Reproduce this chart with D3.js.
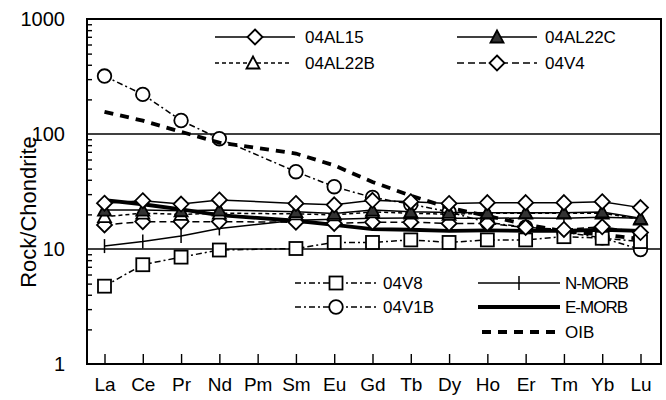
<!DOCTYPE html>
<html>
<head>
<meta charset="utf-8">
<script src="https://cdn.jsdelivr.net/npm/d3@7"></script>
<style>
  body { margin: 0; background: #fff; }
  text { font-family: "Liberation Sans", Arial, sans-serif; fill: #000; }
</style>
</head>
<body>
<script>
// chondrite-normalised REE data
var elements = ["La", "Ce", "Pr", "Nd", "Pm", "Sm", "Eu", "Gd", "Tb", "Dy", "Ho", "Er", "Tm", "Yb", "Lu"];
var yTicks = [1, 10, 100, 1000];

var v04V1B  = [319, 221, 131, 91, null, 47, 34.8, 28.1, 24.5, 21, 17, 15.5, 14, 12.5, 9.9];
var v04V8   = [4.75, 7.3, 8.5, 9.8, null, 10.1, 11.4, 11.4, 12.0, 11.4, 12.0, 12.0, 12.8, 12.4, 11.6];
var vNMORB  = [10.6, 11.6, 13.0, 15.1, null, 17.8, 18.1, 18.5, 18.6, 18.5, 18.5, 18.6, 18.5, 18.9, 18.5];
var vEMORB  = [26.6, 24.5, 22.1, 19.7, null, 17.6, 16.2, 14.9, 14.7, 14.4, 14.5, 14.4, 14.4, 14.7, 14.4];
var vOIB    = [156, 130.5, 104.5, 84.2, null, 67.6, 53.3, 38.3, 29.1, 22.8, 19.4, 16.4, 14.2, 13.4, 12.2];
var v04V4   = [16.2, 17.3, 17.3, 17.3, null, 17.1, 16.7, 17.1, 17.1, 16.7, 16.7, 15.4, 14.8, 15.6, 13.9];
var v04AL22B = [19.1, 20.5, 20.0, 20.5, null, 20.2, 19.8, 21.0, 20.5, 20.0, 20.5, 20.5, 20.5, 20.5, 18.2];
var v04AL22C = [21.8, 21.8, 21.5, 21.8, null, 21.1, 20.4, 21.8, 21.1, 20.8, 20.7, 20.7, 20.7, 21.0, 18.5];
var v04AL15 = [25.0, 26.3, 24.6, 26.7, null, 24.9, 24.2, 26.5, 25.8, 24.9, 25.3, 25.3, 25.3, 25.8, 22.9];

// series in drawing order (first one ends up underneath)
var series = [
    {name: "04V1B",  values: v04V1B,  dash: "6,3,2,3", width: 1.5, marker: "circle"},
    {name: "OIB",    values: vOIB,    dash: "9,7",     width: 3.8, marker: "none"},
    {name: "E-MORB", values: vEMORB,  dash: null,      width: 3.8, marker: "none"},
    {name: "N-MORB", values: vNMORB,  dash: null,      width: 1.5, marker: "tick"},
    {name: "04V8",   values: v04V8,   dash: "6,3,2,3", width: 1.5, marker: "square"},
    {name: "04V4",   values: v04V4,   dash: "7,4",     width: 1.5, marker: "diamond"},
    {name: "04AL22B", values: v04AL22B, dash: "4,3",   width: 1.5, marker: "triangle"},
    {name: "04AL22C", values: v04AL22C, dash: null,    width: 1.5, marker: "triangleFilled"},
    {name: "04AL15", values: v04AL15, dash: null,      width: 1.5, marker: "diamond"}
];

var width = 666, height = 400;
var box = {left: 87, top: 19, right: 661, bottom: 364};

var svg = d3.select("body").append("svg")
    .attr("width", width)
    .attr("height", height);

var x = d3.scalePoint()
    .domain(elements)
    .range([104.5, 640.5]);

var y = d3.scaleLog()
    .domain([1, 1000])
    .range([box.bottom, box.top]);

// draws one marker shape centred at 0,0
function drawMarker(g, type) {
    if (type == "circle") {
        g.append("circle").attr("r", 6.8)
            .attr("fill", "#fff").attr("stroke", "#000").attr("stroke-width", 1.8);
    } else if (type == "square") {
        g.append("rect").attr("x", -6.5).attr("y", -6.5).attr("width", 13).attr("height", 13)
            .attr("fill", "#fff").attr("stroke", "#000").attr("stroke-width", 1.8);
    } else if (type == "diamond") {
        g.append("path").attr("d", "M0,-7.5L7.5,0L0,7.5L-7.5,0Z")
            .attr("fill", "#fff").attr("stroke", "#000").attr("stroke-width", 1.8);
    } else if (type == "triangle") {
        g.append("path").attr("d", "M0,-6.5L6.5,5.5L-6.5,5.5Z")
            .attr("fill", "#fff").attr("stroke", "#000").attr("stroke-width", 1.8);
    } else if (type == "triangleFilled") {
        g.append("path").attr("d", "M0,-6.5L6.5,5.5L-6.5,5.5Z")
            .attr("fill", "#333").attr("stroke", "#000").attr("stroke-width", 1.8);
    } else if (type == "tick") {
        g.append("path").attr("d", "M0,-7V7")
            .attr("stroke", "#000").attr("stroke-width", 1.5);
    }
}

// gridlines at 10 and 100
svg.selectAll(".grid")
    .data([10, 100])
    .enter().append("line")
    .attr("x1", box.left).attr("x2", box.right)
    .attr("y1", function(d) { return y(d); })
    .attr("y2", function(d) { return y(d); })
    .attr("stroke", "#000").attr("stroke-width", 1.6);

// y axis: minor log ticks inward, labels on the decades
var minor = [];
for (var dec = 1; dec < 1000; dec *= 10) {
    for (var k = 2; k <= 9; ++k) minor.push(dec * k);
}
var yAxis = svg.append("g")
    .attr("transform", "translate(" + box.left + ",0)")
    .call(d3.axisLeft(y).tickValues(minor).tickSize(-5).tickFormat(""));
yAxis.select(".domain").remove();
yAxis.selectAll("line").attr("stroke-width", 1.4);

svg.selectAll(".ylab")
    .data(yTicks)
    .enter().append("text")
    .attr("x", 65)
    .attr("y", function(d) { return y(d); })
    .attr("dy", "0.35em")
    .attr("text-anchor", "end")
    .style("font-size", "20px")
    .text(function(d) { return d; });

// x axis with ticks pointing up
var xAxis = svg.append("g")
    .attr("transform", "translate(0," + box.bottom + ")")
    .call(d3.axisBottom(x).tickSize(-10).tickPadding(14));
xAxis.select(".domain").remove();
xAxis.selectAll("line").attr("stroke-width", 1.4);
xAxis.selectAll("text")
    .style("font-size", "19px")
    .style("font-family", "Liberation Sans, Arial, sans-serif");

// frame
svg.append("rect")
    .attr("x", box.left).attr("y", box.top)
    .attr("width", box.right - box.left).attr("height", box.bottom - box.top)
    .attr("fill", "none").attr("stroke", "#000").attr("stroke-width", 2);

svg.append("text")
    .attr("transform", "translate(28,212) rotate(-90)")
    .attr("text-anchor", "middle")
    .attr("dy", "0.35em")
    .style("font-size", "22px")
    .text("Rock/Chondrite");

// the series lines (Pm is missing, so the lines jump over it)
var line = d3.line()
    .x(function(d) { return x(d.el); })
    .y(function(d) { return y(d.v); });

series.forEach(function(s) {
    var pts = [];
    for (var i = 0; i < elements.length; ++i) {
        if (s.values[i] != null) pts.push({el: elements[i], v: s.values[i]});
    }
    var g = svg.append("g").attr("class", "series");
    g.append("path")
        .datum(pts)
        .attr("d", line)
        .attr("fill", "none")
        .attr("stroke", "#000")
        .attr("stroke-width", s.width)
        .attr("stroke-dasharray", s.dash);
    if (s.marker != "none") {
        g.selectAll(".pt")
            .data(pts)
            .enter().append("g")
            .attr("transform", function(d) { return "translate(" + x(d.el) + "," + y(d.v) + ")"; })
            .each(function() { drawMarker(d3.select(this), s.marker); });
    }
});

// legends
var legendItems = [
    {name: "04AL15",  lx: 215, mx: 255, tx: 305, y: 37},
    {name: "04AL22C", lx: 457, mx: 497, tx: 545, y: 37},
    {name: "04AL22B", lx: 215, mx: 253, tx: 305, y: 63},
    {name: "04V4",    lx: 457, mx: 497, tx: 545, y: 63},
    {name: "04V8",    lx: 295, mx: 336, tx: 383, y: 283},
    {name: "04V1B",   lx: 295, mx: 336, tx: 383, y: 307},
    {name: "N-MORB",  lx: 478, mx: 519, tx: 565, y: 283},
    {name: "E-MORB",  lx: 478, mx: 519, tx: 565, y: 307},
    {name: "OIB",     lx: 482, mx: 519, tx: 565, y: 332}
];

legendItems.forEach(function(it) {
    var s = series.filter(function(d) { return d.name == it.name; })[0];
    var g = svg.append("g").attr("class", "legend");
    var len = (it.mx - it.lx) * 2;
    if (it.name == "OIB") len = 555 - it.lx;
    g.append("line")
        .attr("x1", it.lx).attr("x2", it.lx + len)
        .attr("y1", it.y).attr("y2", it.y)
        .attr("stroke", "#000")
        .attr("stroke-width", s.width)
        .attr("stroke-dasharray", s.dash);
    if (s.marker != "none") {
        drawMarker(g.append("g").attr("transform", "translate(" + it.mx + "," + it.y + ")"), s.marker);
    }
    g.append("text")
        .attr("x", it.tx).attr("y", it.y)
        .attr("dy", "0.36em")
        .style("font-size", "17px")
        .style("letter-spacing", it.name.indexOf("MORB") > 0 ? "-1px" : "0px")
        .text(it.name);
});
</script>
</body>
</html>
